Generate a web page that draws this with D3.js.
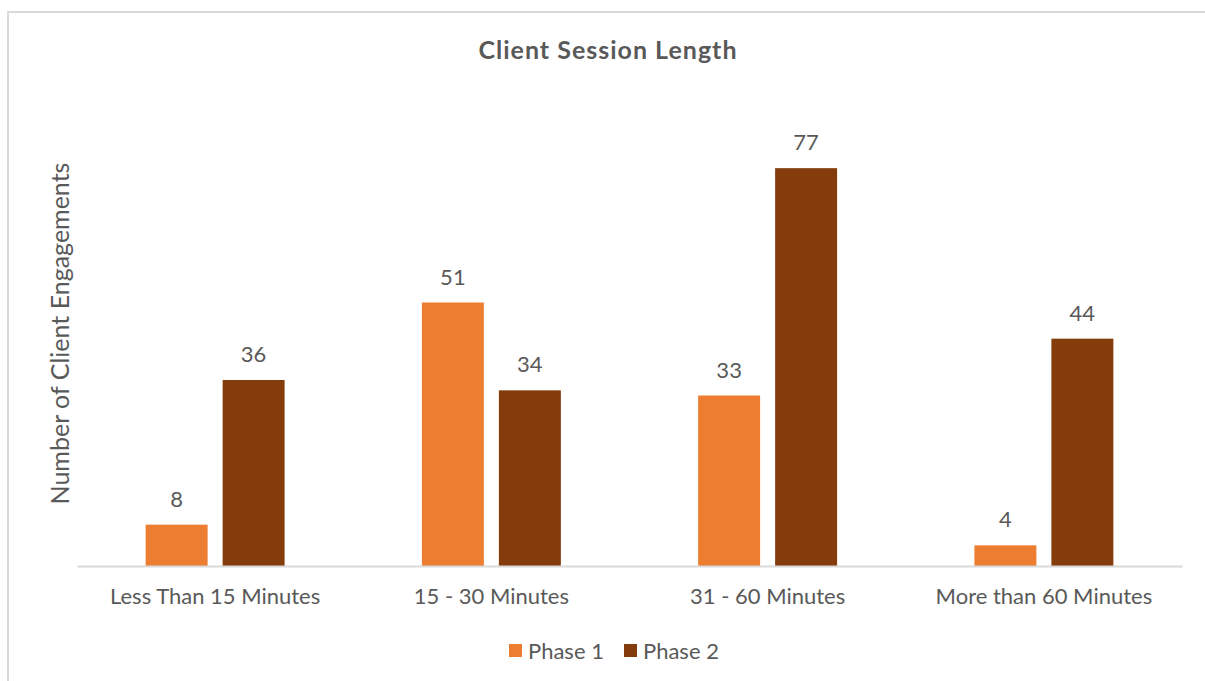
<!DOCTYPE html>
<html>
<head>
<meta charset="utf-8">
<script src="https://cdn.jsdelivr.net/npm/d3@7"></script>
<style>
  html, body { margin: 0; padding: 0; background: #fff; overflow: hidden; }
  svg { display: block; }
  text { font-family: Lato, "Open Sans", sans-serif; fill: #595959; }
</style>
</head>
<body>
<svg id="chart" width="1205" height="681"></svg>
<script>
// Client session length by phase
const categories = ["Less Than 15 Minutes", "15 - 30 Minutes", "31 - 60 Minutes", "More than 60 Minutes"];
const seriesNames = ["Phase 1", "Phase 2"];
const phase1 = [8, 51, 33, 4];
const phase2 = [36, 34, 77, 44];
const seriesColors = ["#ED7D31", "#843C0C"];

const values = [phase1, phase2];
const rows = categories.map((c, i) => ({
  category: c,
  items: seriesNames.map((s, j) => ({ series: s, value: values[j][i] }))
}));

const W = 1205, H = 681;
const svg = d3.select("#chart");

// chart area frame: only the top and left edges fall inside the canvas
svg.append("path")
  .attr("d", `M8,${H} L8,12 L${W},12`)
  .attr("fill", "none")
  .attr("stroke", "#d9d9d9")
  .attr("stroke-width", 2);

const plot = { left: 77, right: 1182, top: 101, bottom: 566 };

const x0 = d3.scaleBand()
  .domain(categories)
  .range([plot.left, plot.right])
  .paddingInner(0.497)
  .paddingOuter(0.2485);

const x1 = d3.scaleBand()
  .domain(seriesNames)
  .range([0, x0.bandwidth()])
  .paddingInner(0.195);

const y = d3.scaleLinear()
  .domain([0, 90])
  .range([plot.bottom, plot.top]);

const color = d3.scaleOrdinal().domain(seriesNames).range(seriesColors);

// title
svg.append("text")
  .attr("x", 608).attr("y", 59)
  .attr("text-anchor", "middle")
  .style("font-size", "25px")
  .style("font-weight", "bold")
  .style("letter-spacing", "1px")
  .text("Client Session Length");

// y axis title
svg.append("text")
  .attr("transform", `translate(69,${(plot.top + plot.bottom) / 2}) rotate(-90)`)
  .attr("text-anchor", "middle")
  .style("font-size", "25px")
  .text("Number of Client Engagements");

// bars
const groups = svg.append("g").selectAll("g")
  .data(rows)
  .join("g")
  .attr("transform", d => `translate(${x0(d.category)},0)`);

groups.selectAll("rect")
  .data(d => d.items)
  .join("rect")
  .attr("x", d => x1(d.series))
  .attr("y", d => y(d.value))
  .attr("width", x1.bandwidth())
  .attr("height", d => y(0) - y(d.value))
  .attr("fill", d => color(d.series));

// value labels
groups.selectAll("text.value")
  .data(d => d.items)
  .join("text")
  .attr("class", "value")
  .attr("x", d => x1(d.series) + x1.bandwidth() / 2)
  .attr("y", d => y(d.value) - 18)
  .attr("text-anchor", "middle")
  .style("font-size", "22px")
  .text(d => d.value);

// category axis
const xAxis = svg.append("g")
  .attr("transform", `translate(0,${plot.bottom})`)
  .call(d3.axisBottom(x0).tickSize(0).tickSizeOuter(0).tickPadding(22));
xAxis.select(".domain").attr("stroke", "#d9d9d9").attr("stroke-width", 2);
xAxis.selectAll("text")
  .style("font-size", "22px")
  .style("font-family", "Lato, sans-serif")
  .attr("fill", "#595959");

// legend
const legend = svg.append("g").attr("transform", "translate(509,651)");
const legendOffsets = [0, 115];
seriesNames.forEach((s, i) => {
  const g = legend.append("g").attr("transform", `translate(${legendOffsets[i]},0)`);
  g.append("rect")
    .attr("x", 0).attr("y", -7)
    .attr("width", 13).attr("height", 13)
    .attr("fill", color(s));
  g.append("text")
    .attr("x", 19).attr("y", 8)
    .style("font-size", "22px")
    .text(s);
});
</script>
</body>
</html>
